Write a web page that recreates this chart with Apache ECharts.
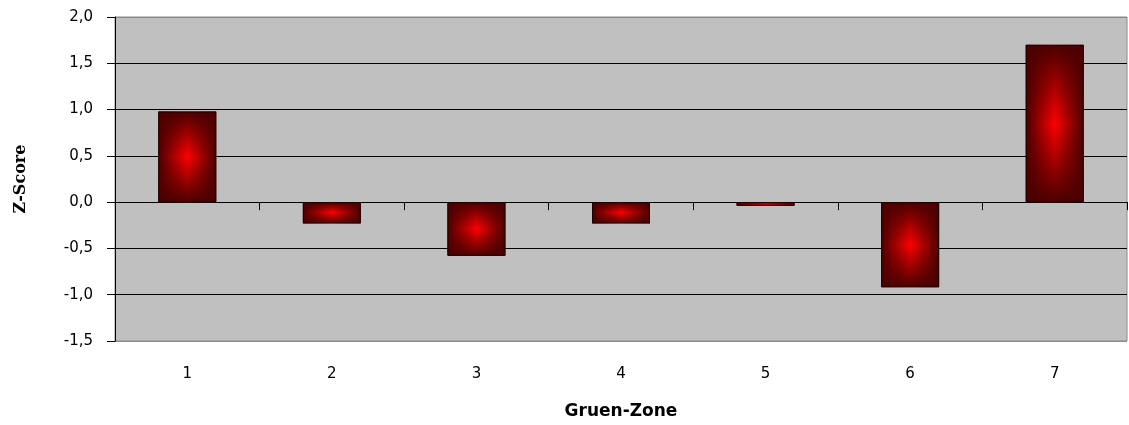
<!DOCTYPE html>
<html>
<head>
<meta charset="utf-8">
<script src="https://cdn.jsdelivr.net/npm/echarts@6/dist/echarts.min.js"></script>
<style>
  html, body { margin: 0; padding: 0; background: #ffffff; }
  #chart { width: 1129px; height: 425px; }
</style>
</head>
<body>
<div id="chart"></div>
<script>
// Zones and their z-scores
const zones = ['1', '2', '3', '4', '5', '6', '7'];
const zScores = [0.98, -0.23, -0.58, -0.23, -0.04, -0.92, 1.70];
const yMin = -1.5, yMax = 2.0, yStep = 0.5;

const edgeRed = '#4a0000';
const labelFont = 'DejaVu Sans';

// Horizontal shading: dark edges, bright red centre
const sideShade = new echarts.graphic.LinearGradient(0, 0, 1, 0, [
  { offset: 0, color: edgeRed },
  { offset: 0.5, color: '#ff0000' },
  { offset: 1, color: edgeRed }
]);
// Vertical shading laid over it, fading to transparent in the middle
const capShade = new echarts.graphic.LinearGradient(0, 0, 0, 1, [
  { offset: 0, color: 'rgba(74,0,0,1)' },
  { offset: 0.5, color: 'rgba(74,0,0,0)' },
  { offset: 1, color: 'rgba(74,0,0,1)' }
]);

const chart = echarts.init(document.getElementById('chart'), null, { renderer: 'canvas' });

chart.setOption({
  animation: false,
  backgroundColor: '#ffffff',
  grid: {
    left: 115, right: 2, top: 17, bottom: 81,
    show: true,
    backgroundColor: '#c0c0c0',
    borderColor: '#8a8a8a',
    borderWidth: 1
  },
  xAxis: [
    {
      type: 'category',
      data: zones,
      position: 'bottom',
      axisLine: { show: false, onZero: false },
      axisTick: { show: false },
      axisLabel: {
        margin: 26,
        color: '#000000',
        fontFamily: labelFont,
        fontSize: 15
      },
      name: 'Gruen-Zone',
      nameLocation: 'middle',
      nameGap: 62,
      nameTextStyle: {
        color: '#000000',
        fontFamily: labelFont,
        fontWeight: 'bold',
        fontSize: 17
      }
    },
    {
      // zero line with category separators
      type: 'category',
      data: zones,
      position: 'top',
      axisLine: { show: true, onZero: true, lineStyle: { color: '#000000', width: 1 } },
      axisTick: { show: true, inside: true, length: 8, lineStyle: { color: '#000000', width: 1 } },
      axisLabel: { show: false }
    }
  ],
  yAxis: {
    type: 'value',
    min: yMin,
    max: yMax,
    interval: yStep,
    axisLine: { show: true, lineStyle: { color: '#000000', width: 1 } },
    axisTick: { show: true, length: 8, lineStyle: { color: '#000000' } },
    axisLabel: {
      margin: 22,
      color: '#000000',
      fontFamily: labelFont,
      fontSize: 15,
      formatter: v => v.toFixed(1).replace('.', ',')
    },
    splitLine: {
      show: true,
      lineStyle: {
        color: ['#8a8a8a', '#000000', '#000000', '#000000', '#000000', '#000000', '#000000', '#8a8a8a'],
        width: 1
      }
    },
    name: 'Z-Score',
    nameLocation: 'middle',
    nameGap: 86,
    nameTextStyle: {
      color: '#000000',
      fontFamily: 'DejaVu Serif',
      fontWeight: 'bold',
      fontSize: 16
    }
  },
  series: [
    {
      type: 'bar',
      xAxisIndex: 0,
      data: zScores,
      barWidth: 58,
      itemStyle: { color: sideShade }
    },
    {
      type: 'bar',
      xAxisIndex: 0,
      data: zScores,
      barWidth: 58,
      barGap: '-100%',
      itemStyle: { color: capShade, borderColor: '#1a0000', borderWidth: 1 }
    }
  ]
});
</script>
</body>
</html>
